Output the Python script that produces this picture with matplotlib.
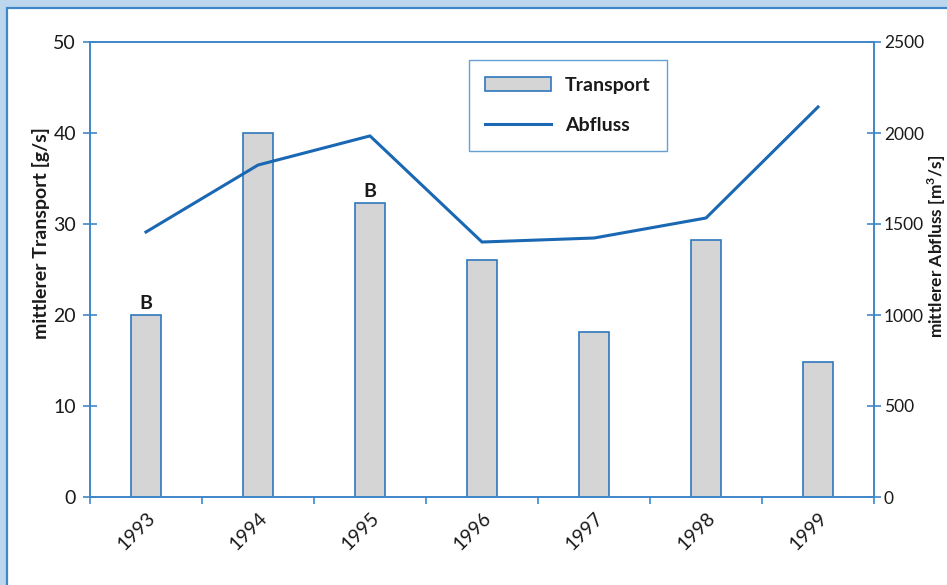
import matplotlib
matplotlib.use("Agg")
import matplotlib.pyplot as plt
from matplotlib.patches import Rectangle
import numpy as np

# Annual means
years = ["1993", "1994", "1995", "1996", "1997", "1998", "1999"]
transport = [20.0, 40.0, 32.3, 26.0, 18.1, 28.2, 14.8]      # g/s
abfluss = [1456, 1824, 1984, 1401, 1423, 1533, 2143]         # m3/s
flag_labels = ["B", "", "B", "", "", "", ""]

plt.rcParams["font.family"] = ["Lato", "DejaVu Sans"]
plt.rcParams["mathtext.fontset"] = "custom"
plt.rcParams["mathtext.rm"] = "Lato"
plt.rcParams["mathtext.bf"] = "Lato:bold"

SPINE = "#3f87c9"
LINE = "#1a68b3"
BAR_FACE = "#d5d5d5"
BAR_EDGE = "#2f78bf"
FRAME_BG = "#bcd6ee"
TXT = "#1a1a1a"
FS = 14

fig = plt.figure(figsize=(9.47, 5.85), dpi=100)
fig.patch.set_facecolor(FRAME_BG)

# white panel with a blue edge, open to the right and bottom
panel = Rectangle((7 / 947, -0.05), 1.1, 1 - 8 / 585 + 0.05,
                  transform=fig.transFigure, facecolor="white",
                  edgecolor=SPINE, linewidth=1.6, zorder=-10)
fig.patches.append(panel)

ax = fig.add_axes([90 / 947, 88 / 585, 784 / 947, 455 / 585])
ax.set_facecolor("none")
x = np.arange(len(years))

bars = ax.bar(x, transport, width=0.27, color=BAR_FACE,
              edgecolor=BAR_EDGE, linewidth=1.2, zorder=2, label="Transport")
for xi, v, lab in zip(x, transport, flag_labels):
    if lab:
        ax.text(xi, v + 0.3, lab, ha="center", va="bottom",
                fontsize=14, fontweight="bold", color=TXT)

ax.set_xlim(-0.5, len(years) - 0.5)
ax.set_ylim(0, 50)
ax.set_yticks(np.arange(0, 51, 10))
ax.set_xticks(x)
ax.set_xticklabels(years, rotation=45, ha="right", va="top",
                   rotation_mode="anchor", fontsize=FS, color=TXT)
ax.set_xticks(np.arange(-0.5, len(years)), minor=True)
ax.tick_params(axis="x", which="major", length=0, pad=9)
ax.tick_params(axis="x", which="minor", length=5, width=1.2,
               color=SPINE, direction="out")
ax.tick_params(axis="y", length=10, width=1.2, color=SPINE,
               direction="inout", labelsize=FS, labelcolor=TXT, pad=5)
ax.set_ylabel("mittlerer Transport [g/s]", fontsize=FS,
              fontweight="bold", color=TXT, va="center")
ax.yaxis.set_label_coords(-0.062, 0.58)

ax2 = ax.twinx()
ax2.plot(x, abfluss, color=LINE, linewidth=2.2, zorder=3, label="Abfluss")
ax2.set_ylim(0, 2500)
ax2.set_yticks(np.arange(0, 2501, 500))
ax2.tick_params(axis="y", length=10, width=1.2, color=SPINE,
                direction="inout", labelsize=12.5, labelcolor=TXT, pad=2)
ax2.set_ylabel(r"mittlerer Abfluss [m$^\mathbf{3}$/s]", fontsize=12.5,
               fontweight="bold", color=TXT, va="center")
ax2.yaxis.set_label_coords(1.0805, 0.55)

for a in (ax, ax2):
    for side in ("left", "right", "top", "bottom"):
        a.spines[side].set_color(SPINE)
        a.spines[side].set_linewidth(1.2)

handles = [bars, ax2.get_lines()[0]]
leg = ax2.legend(handles, ["Transport", "Abfluss"],
                 loc="upper left", bbox_to_anchor=(0.483, 0.96),
                 frameon=True, fancybox=False, edgecolor=SPINE,
                 handlelength=3.4, handleheight=0.75, labelspacing=1.2,
                 borderpad=0.85, handletextpad=0.7, borderaxespad=0,
                 prop={"size": FS, "weight": "bold"})
leg.get_frame().set_linewidth(1.0)
for t in leg.get_texts():
    t.set_color(TXT)

fig.savefig("out.png", dpi=100, facecolor=fig.get_facecolor())
